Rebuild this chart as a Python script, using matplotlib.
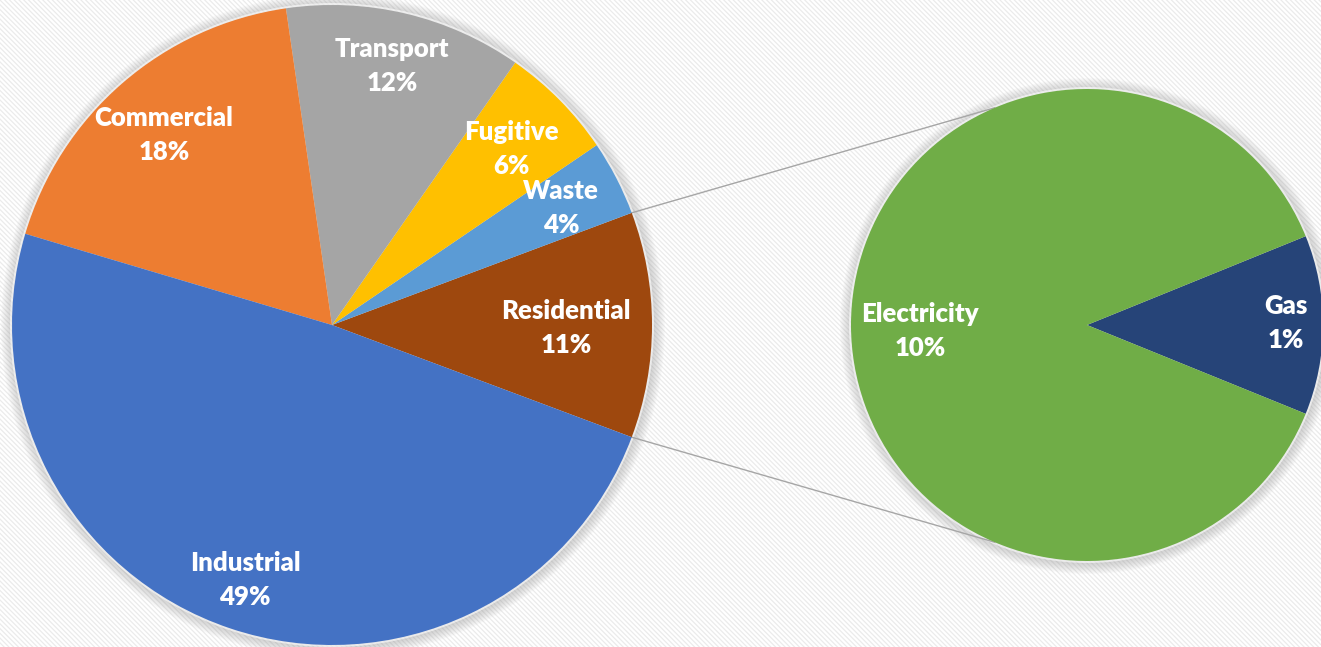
import numpy as np
import matplotlib
matplotlib.use("Agg")
import matplotlib.pyplot as plt
from matplotlib.patches import Rectangle, Circle

# ---- data ----
main_labels = ["Residential", "Waste", "Fugitive", "Transport", "Commercial", "Industrial"]
main_values = [11.4, 3.8, 5.8, 12.0, 18.1, 48.9]
main_colors = ["#9E480E", "#5B9BD5", "#FFC000", "#A5A5A5", "#ED7D31", "#4472C4"]

sub_labels = ["Gas", "Electricity"]
sub_values = [1.4, 10.0]
sub_colors = ["#264478", "#70AD47"]

W, H = 1321, 647
fig = plt.figure(figsize=(W / 100, H / 100), dpi=100)
ax = fig.add_axes([0, 0, 1, 1])

# background with fine diagonal stripes
plt.rcParams["hatch.linewidth"] = 0.9
ax.add_patch(Rectangle((0, 0), W, H, facecolor="white", edgecolor="#ebebeb",
                       linewidth=0, hatch="\\" * 7, zorder=0))

c1, r1 = (332, 322), 320
c2, r2 = (1087, 322), 236

# soft shadows
for c, r in [(c1, r1), (c2, r2)]:
    for k in range(12, 0, -1):
        ax.add_patch(Circle((c[0] + 1, c[1] - 1), r + k, facecolor="#8a8a8a",
                            edgecolor="none", alpha=0.035, zorder=1))
    ax.add_patch(Circle(c, r + 2, facecolor="white", edgecolor="none", alpha=0.6, zorder=1.5))

tot1 = sum(main_values)
start1 = -main_values[0] / tot1 * 360 / 2
ax.pie(main_values, colors=main_colors, startangle=start1, counterclock=True,
       center=c1, radius=r1, frame=True, wedgeprops=dict(linewidth=0, zorder=2))

tot2 = sum(sub_values)
start2 = -sub_values[0] / tot2 * 360 / 2
ax.pie(sub_values, colors=sub_colors, startangle=start2, counterclock=True,
       center=c2, radius=r2, frame=True, wedgeprops=dict(linewidth=0, zorder=2))
ax.set_xlim(0, W)
ax.set_ylim(0, H)
ax.set_aspect("equal")
ax.axis("off")

# connector lines
half = np.deg2rad(main_values[0] / tot1 * 360 / 2)
end_ang = np.deg2rad(113)
for s in (1, -1):
    x0 = c1[0] + r1 * np.cos(s * half)
    y0 = c1[1] + r1 * np.sin(s * half)
    x1 = c2[0] + r2 * np.cos(s * end_ang)
    y1 = c2[1] + r2 * np.sin(s * end_ang)
    ax.plot([x0, x1], [y0, y1], color="#a6a6a6", lw=1.0, zorder=1.8)

# labels (image pixel positions of label centres)
main_pos = {"Residential": (566, 328), "Waste": (561, 208), "Fugitive": (511, 149),
            "Transport": (392, 66), "Commercial": (164, 135), "Industrial": (245, 580)}
sub_pos = {"Gas": (1286, 323), "Electricity": (920, 331)}

font = dict(family=["Lato", "DejaVu Sans"], fontweight="heavy", fontsize=18.5,
            color="white", ha="center", va="center", zorder=5, linespacing=1.5)
for lab, v in zip(main_labels, main_values):
    x, y = main_pos[lab]
    ax.text(x, H - y, f"{lab}\n{round(v)}%", **font)
for lab, v in zip(sub_labels, sub_values):
    x, y = sub_pos[lab]
    ax.text(x, H - y, f"{lab}\n{round(v)}%", **font)

fig.savefig("out.png", dpi=100)
